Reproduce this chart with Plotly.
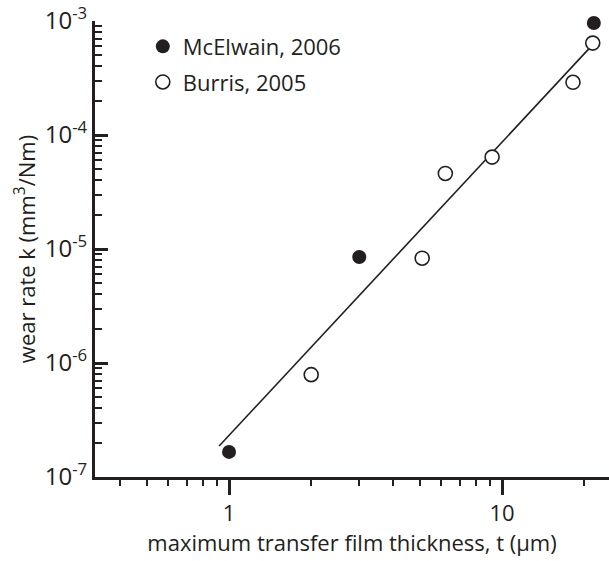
import plotly.graph_objects as go

# McElwain, 2006 (filled)
mce_t = [1.0, 3.0, 21.7]
mce_k = [1.66e-7, 8.5e-6, 9.6e-4]

# Burris, 2005 (open)
bur_t = [2.0, 5.1, 6.2, 9.2, 18.2, 21.5]
bur_k = [7.9e-7, 8.3e-6, 4.6e-5, 6.4e-5, 2.9e-4, 6.4e-4]

# fit line endpoints
fit_t = [0.92, 21.5]
fit_k = [1.87e-7, 6.2e-4]

y_tickvals = [1e-7, 1e-6, 1e-5, 1e-4, 1e-3]
y_ticktext = ["10<sup>-7</sup>", "10<sup>-6</sup>", "10<sup>-5</sup>", "10<sup>-4</sup>", "10<sup>-3</sup>"]
x_tickvals = [1, 10]
x_ticktext = ["1", "10"]

ink = "#231f20"
font = "Open Sans"

fig = go.Figure()
fig.add_trace(go.Scatter(x=fit_t, y=fit_k, mode="lines",
                         line=dict(color=ink, width=1.6), showlegend=False, hoverinfo="skip"))
fig.add_trace(go.Scatter(x=mce_t, y=mce_k, mode="markers", name="McElwain, 2006",
                         legendgroup="a", cliponaxis=False,
                         marker=dict(symbol="circle", size=14, color=ink, line=dict(width=0))))
fig.add_trace(go.Scatter(x=bur_t, y=bur_k, mode="markers", name="Burris, 2005",
                         legendgroup="b", cliponaxis=False,
                         marker=dict(symbol="circle", size=14, color="white", line=dict(width=1.6, color=ink))))

fig.update_layout(
    width=609, height=561,
    margin=dict(l=95, r=0, t=21, b=84),
    paper_bgcolor="white", plot_bgcolor="white",
    font=dict(family=font, size=22, color=ink),
    legend=dict(x=0.093, y=0.99, xanchor="left", yanchor="top",
                bgcolor="rgba(0,0,0,0)", borderwidth=0,
                font=dict(size=22, color=ink), tracegroupgap=4),
    xaxis=dict(type="log", range=[-0.491, 1.392],
               showgrid=False, zeroline=False,
               showline=True, linecolor=ink, linewidth=3,
               ticks="outside", ticklen=15, tickwidth=2.5, tickcolor=ink,
               tickvals=x_tickvals, ticktext=x_ticktext,
               tickfont=dict(size=22, color=ink),
               minor=dict(ticks="outside", ticklen=6, tickwidth=2, tickcolor=ink,
                          tickvals=[0.4, 0.5, 0.6, 0.7, 0.8, 0.9, 2, 3, 4, 5, 6, 7, 8, 9, 20],
                          showgrid=False),
               title=dict(text="maximum transfer film thickness, t (\u03bcm)", standoff=10,
                          font=dict(size=22, color=ink))),
    yaxis=dict(type="log", range=[-7, -3],
               showgrid=False, zeroline=False,
               showline=True, linecolor=ink, linewidth=3,
               ticks="inside", ticklen=13, tickwidth=2.5, tickcolor=ink,
               tickvals=y_tickvals, ticktext=y_ticktext,
               tickfont=dict(size=24, color=ink),
               minor=dict(ticks="inside", ticklen=7, tickwidth=2, tickcolor=ink,
                          dtick="D1", showgrid=False),
               title=dict(text="wear rate k (mm<sup>3</sup>/Nm)", standoff=4,
                          font=dict(size=22, color=ink))),
)

fig.write_html("out.html")
